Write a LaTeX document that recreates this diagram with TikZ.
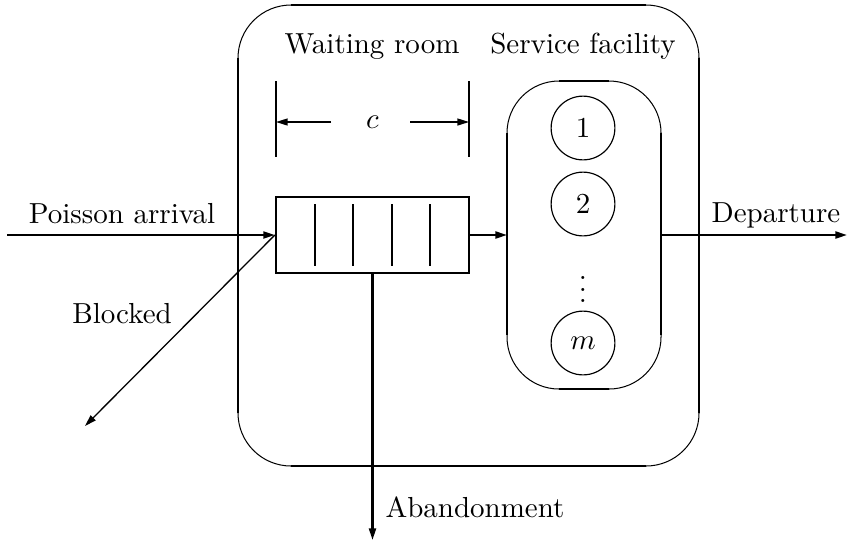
\documentclass[tikz,border=0pt]{standalone}
\usetikzlibrary{arrows.meta,calc}
\begin{document}
\begin{tikzpicture}[x=0.345pt,y=-0.345pt,
  thinline/.style={line width=0.35pt},
  boldline/.style={line width=1pt},
  flow/.style={line width=0.75pt,-{Triangle[length=4pt,width=2.4pt]}},
  slim/.style={line width=0.45pt,-{Triangle[length=4pt,width=2.4pt]}},
  lbl/.style={anchor=base,inner sep=0pt},
  server/.style={circle,draw,line width=0.4pt,minimum size=22pt,inner sep=0pt},
  frame/.style={inner sep=0pt,outer sep=0pt},
]
\useasboundingbox (0,0) rectangle (847,541);

% system boundary: thin rounded corners, heavy straight sides
\node[frame,minimum width=461*0.345pt,minimum height=461*0.345pt] (sys) at (468.5,235.5) {};
\draw[thinline,rounded corners=53*0.345pt] (sys.north west) rectangle (sys.south east);
\draw[boldline] ($(sys.north west)+(53,0)$) -- ($(sys.north east)+(-53,0)$);
\draw[boldline] ($(sys.south west)+(53,0)$) -- ($(sys.south east)+(-53,0)$);
\draw[boldline] ($(sys.north west)+(0,53)$) -- ($(sys.south west)+(0,-53)$);
\draw[boldline] ($(sys.north east)+(0,53)$) -- ($(sys.south east)+(0,-53)$);

% service facility
\node[frame,minimum width=154*0.345pt,minimum height=308*0.345pt] (svc) at (584,235) {};
\draw[thinline,rounded corners=52*0.345pt] (svc.north west) rectangle (svc.south east);
\draw[boldline] ($(svc.north west)+(52,0)$) -- ($(svc.north east)+(-52,0)$);
\draw[boldline] ($(svc.south west)+(52,0)$) -- ($(svc.south east)+(-52,0)$);
\draw[boldline] ($(svc.north west)+(0,52)$) -- ($(svc.south west)+(0,-54)$);
\draw[boldline] ($(svc.north east)+(0,52)$) -- ($(svc.south east)+(0,-54)$);

\node[server] (s1) at (583,128) {1};
\node[server] (s2) at (583,204) {2};
\node (dots) at (583,281) {$\vdots$};
\node[server] (sm) at (583,343) {$m$};

% waiting room queue
\node[draw,line width=0.8pt,minimum width=193*0.345pt,minimum height=76*0.345pt,inner sep=0pt] (queue) at (372.5,235) {};
\foreach \px in {315,353,392,430}
  \draw[line width=0.8pt] (\px,204) -- (\px,266);

% capacity dimension
\draw[boldline] (276,81) -- (276,157);
\draw[boldline] (469,81) -- (469,157);
\node (cap) at (372.5,122) {$c$};
\coordinate (capL) at (276,122);
\coordinate (capR) at (469,122);
\coordinate (capLs) at (331,122);
\coordinate (capRs) at (410,122);
\draw[slim] (capLs) -- (capL);
\draw[slim] (capRs) -- (capR);

% headings
\node[lbl] (wr) at (372,53) {Waiting room};
\node[lbl] (sf) at (583,53) {Service facility};

% flows
\coordinate (src) at (7,235);
\coordinate (dep) at (847,235);
\coordinate (blk) at (85,426);
\coordinate (aban) at (372.5,540);
\draw[flow] (src) -- (queue.west);
\draw[flow] (queue.east) -- (svc.west);
\draw[flow] (svc.east) -- (dep);
\draw[slim] (queue.west) -- (blk);
\draw[flow] (queue.south) -- (aban);

\node[lbl] (la) at (122,223) {Poisson arrival};
\node[lbl] (lb) at (122,323) {Blocked};
\node[lbl] (ld) at (776,222) {Departure};
\node[lbl] (lab) at (475,517) {Abandonment};
\end{tikzpicture}
\end{document}
